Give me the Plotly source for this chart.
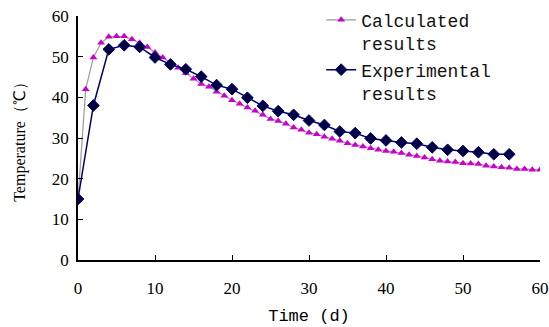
import plotly.graph_objects as go

calc_days = list(range(0, 61))
calc_temp = [15.0, 42.0, 49.8, 53.4, 54.9, 55.0, 55.0, 54.3, 53.4, 52.4,
             51.0, 49.8, 48.6, 47.3, 46.0, 44.6, 43.3, 42.6, 41.4, 40.4,
             39.3, 38.4, 37.5, 36.7, 35.7, 34.7, 34.2, 33.5, 32.6, 32.0,
             31.3, 30.9, 30.3, 29.8, 29.3, 28.7, 28.3, 27.9, 27.5, 27.1,
             26.8, 26.6, 26.3, 25.9, 25.6, 25.2, 24.8, 24.4, 24.2, 24.1,
             23.8, 23.7, 23.6, 23.2, 23.0, 22.8, 22.7, 22.4, 22.4, 22.2, 22.2]

exp_days = list(range(0, 57, 2))
exp_temp = [15.0, 38.0, 51.8, 52.8, 52.4, 49.8, 48.1, 46.9, 45.1, 43.0,
            42.0, 39.9, 37.9, 36.6, 35.7, 34.3, 33.2, 31.6, 31.2, 29.9,
            29.4, 28.9, 28.6, 27.7, 27.1, 26.8, 26.5, 26.0, 26.0]

x_ticks = [0, 10, 20, 30, 40, 50, 60]
y_ticks = [0, 10, 20, 30, 40, 50, 60]

fig = go.Figure()
fig.add_trace(go.Scatter(
    x=calc_days, y=calc_temp, mode="lines+markers",
    name="Calculated<br>results",
    line=dict(color="#9a9a9a", width=1.2),
    marker=dict(symbol="triangle-up", size=7, color="#cc00cc"),
))
fig.add_trace(go.Scatter(
    x=exp_days, y=exp_temp, mode="lines+markers",
    name="Experimental<br>results",
    line=dict(color="#000066", width=1.5),
    marker=dict(symbol="diamond", size=9, color="#000040",
                line=dict(color="#000080", width=1)),
))

serif = "Liberation Serif, serif"
mono = "Liberation Mono"

fig.update_layout(
    width=549, height=327,
    margin=dict(l=78, r=9, t=16, b=67, autoexpand=False),
    paper_bgcolor="white", plot_bgcolor="white",
    showlegend=True,
    legend=dict(xref="container", yref="container",
                x=0.585, y=0.995, xanchor="left", yanchor="top",
                font=dict(family=mono, size=18, color="#111111"),
                bgcolor="rgba(0,0,0,0)", valign="top",
                tracegroupgap=0, itemwidth=30),
    xaxis=dict(range=[0, 60], tickvals=x_ticks, ticks="inside", ticklen=5,
               showgrid=False, zeroline=False, showline=True, automargin=False,
               linecolor="black", linewidth=1.5, tickcolor="black",
               tickfont=dict(family=serif, size=17, color="black"),
               ticklabelstandoff=12,
               title=dict(text="Time (d)", font=dict(family=mono, size=17, color="black"),
                          standoff=12)),
    yaxis=dict(range=[0, 60], tickvals=y_ticks, ticks="inside", ticklen=5,
               showgrid=False, zeroline=False, showline=True, automargin=False,
               linecolor="black", linewidth=1.5, tickcolor="black",
               tickfont=dict(family=serif, size=17, color="black"),
               ticklabelstandoff=4,
               title=dict(text="Temperature\uff08\u2103\uff09",
                          font=dict(family=serif, size=16, color="black"),
                          standoff=22)),
)

fig.write_html("out.html")
